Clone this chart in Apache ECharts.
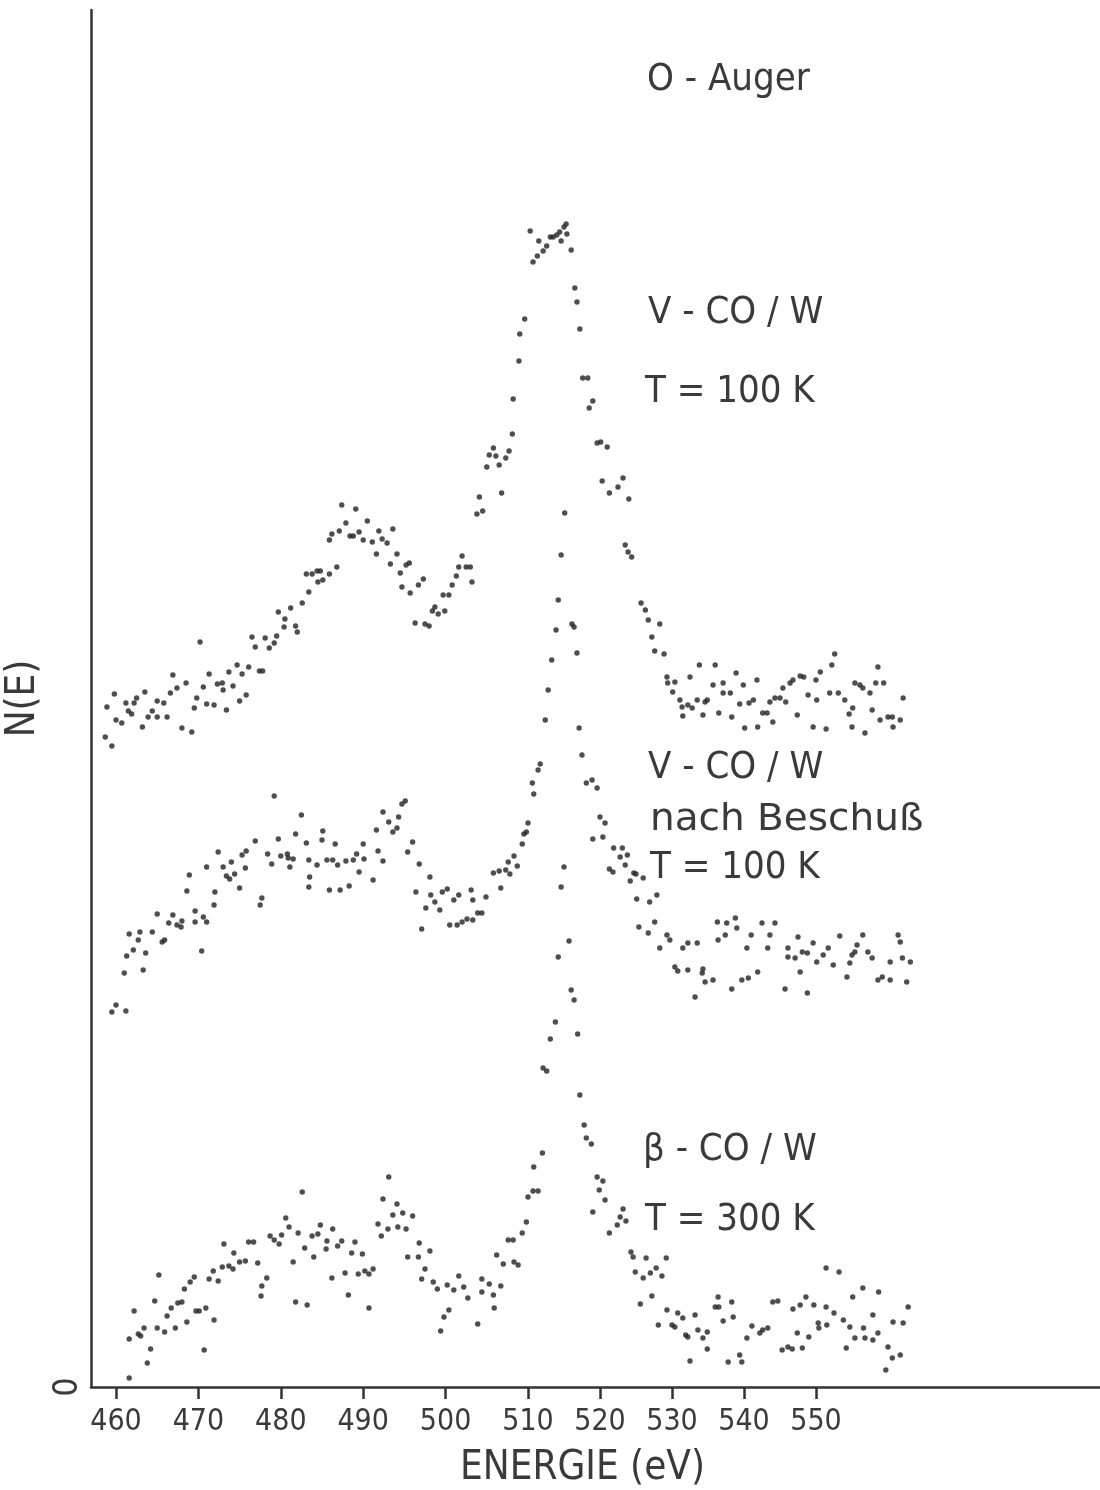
<!DOCTYPE html>
<html>
<head>
<meta charset="utf-8">
<title>O-Auger N(E)</title>
<script src="https://cdn.jsdelivr.net/npm/echarts@6/dist/echarts.min.js"></script>
<style>
  html, body { margin: 0; padding: 0; background: #ffffff; }
  #chart { width: 1100px; height: 1490px; }
</style>
</head>
<body>
<div id="chart"></div>
<script>
// Energy tick labels (eV)
const tickEnergies = [460, 470, 480, 490, 500, 510, 520, 530, 540, 550];

// O-Auger spectra, [energy eV, N(E) arb. units]
// V-CO/W, T = 100 K
const vcoW100K = [
  [458.7,65.0],[458.9,68.0],[459.5,64.1],[459.8,69.3],[460.0,66.7],[460.7,66.4],[461.2,68.4],[461.5,67.6],
  [461.9,67.3],[462.2,68.4],[462.5,68.9],[463.2,66.0],[463.5,69.5],[463.9,67.0],[464.4,67.6],[465.0,68.6],
  [465.0,67.0],[465.8,68.4],[466.2,67.0],[466.6,69.4],[466.9,71.2],[467.4,69.9],[468.0,65.9],[468.5,70.4],
  [469.2,65.5],[469.5,67.9],[469.8,68.9],[470.2,74.5],[470.6,70.0],[471.0,68.3],[471.3,71.3],[471.9,68.2],
  [472.3,70.3],[472.9,70.4],[473.0,69.7],[473.4,67.7],[473.7,71.5],[474.2,70.1],[474.7,72.2],[475.0,68.6],
  [475.3,71.3],[475.8,69.2],[476.1,72.0],[476.5,75.0],[476.9,74.0],[477.4,71.6],[477.8,71.6],[478.1,74.9],
  [478.6,73.9],[479.2,74.4],[479.5,75.1],[479.7,77.5],[480.4,76.0],[480.5,76.8],[481.2,77.9],[481.8,76.1],
  [482.0,75.5],[482.6,78.4],[483.1,81.3],[483.4,79.5],[483.8,81.3],[484.4,81.6],[484.5,80.5],[484.8,81.6],
  [485.1,80.7],[485.9,81.3],[485.9,84.7],[486.2,85.3],[486.8,82.0],[487.1,85.6],[487.4,88.2],[487.9,86.4],
  [488.4,85.1],[488.8,85.1],[489.1,87.8],[489.5,85.5],[490.0,84.7],[490.5,86.6],[491.1,84.5],[491.6,83.3],
  [491.9,85.6],[492.3,84.8],[492.9,84.4],[493.3,82.3],[493.6,85.8],[494.1,83.3],[494.5,81.4],[494.7,80.0],
  [495.2,82.2],[495.6,82.4],[495.7,79.4],[496.3,76.4],[496.7,80.2],[497.3,80.8],[497.5,76.3],[498.0,76.1],
  [498.4,77.6],[498.7,78.0],[499.1,77.3],[499.7,79.2],[499.9,77.6],[500.4,79.2],[500.8,80.2],[501.3,81.1],
  [501.6,82.0],[502.0,83.1],[502.5,82.0],[503.0,82.0],[503.2,80.5],[503.8,87.3],[504.1,89.0],[504.5,87.6],
  [505.0,92.0],[505.3,93.2],[505.8,93.9],[506.1,93.1],[506.5,92.2],[506.8,89.4],[507.3,92.9],[507.7,93.6],
  [508.1,95.3],[508.2,98.8],[508.9,102.6],[509.0,105.3],[509.6,106.8],[510.3,115.6],[510.7,112.5],[511.3,113.1],
  [511.5,114.6],[512.1,113.6],[512.6,114.1],[513.1,115.0],[513.5,115.0],[514.0,115.2],[514.4,115.5],[514.6,114.6],
  [515.0,116.0],[515.3,116.3],[515.4,115.3],[516.0,113.7],[516.5,109.9],[516.8,108.5],[517.2,105.8],[517.6,100.9],
  [518.3,100.9],[518.5,97.9],[519.0,98.6],[519.6,94.4],[520.1,94.5],[520.3,90.6],[521.0,94.0],[521.3,89.4],
  [522.5,90.0],[523.2,90.9],[524.0,88.8],[523.5,84.2],[523.9,83.5],[524.4,83.0],[525.7,78.4],[526.3,77.7],
  [526.7,76.7],[527.2,75.0],[527.6,73.6],[528.3,76.3],[528.9,73.3],[529.3,71.0],[529.4,70.4],[530.1,69.5],
  [530.4,70.5],[531.1,68.7],[531.4,68.0],[531.5,67.1],[532.2,68.2],[532.5,71.0],[532.8,67.9],[533.5,68.7],
  [533.8,72.2],[534.3,67.2],[534.6,68.5],[534.9,68.7],[535.7,70.2],[536.0,72.2],[536.5,67.4],[537.1,70.4],
  [537.1,69.4],[538.1,69.4],[538.3,67.0],[538.9,71.4],[539.4,68.3],[539.9,70.2],[540.1,65.9],[540.7,68.4],
  [541.3,68.7],[541.8,70.7],[541.9,66.0],[542.6,67.4],[543.2,67.4],[543.6,68.5],[544.0,66.5],[544.3,68.9],
  [545.0,68.9],[545.4,69.9],[545.8,68.5],[546.4,70.4],[546.8,70.7],[547.4,67.2],[547.8,71.1],[548.3,71.0],
  [548.9,69.2],[549.6,66.0],[550.0,70.7],[550.1,68.7],[550.6,71.5],[551.4,65.8],[551.9,69.4],[552.2,72.2],
  [552.6,73.3],[553.1,69.4],[554.0,68.7],[554.6,67.3],[555.0,66.0],[555.1,67.9],[555.4,70.4],[556.1,70.2],
  [556.5,69.9],[556.8,65.4],[557.5,69.4],[557.8,67.7],[558.3,70.4],[558.6,72.0],[558.9,66.7],[559.4,70.4],
  [560.0,67.0],[560.6,67.0],[560.7,66.0],[561.7,66.7],[562.1,68.9]
];

// V-CO/W nach Beschuss, T = 100 K
const vcoWBombarded = [
  [459.5,37.5],[460.0,38.2],[461.0,41.4],[461.2,37.6],[461.3,43.1],[461.6,45.3],[462.1,43.7],[462.7,44.7],
  [462.9,45.5],[463.3,41.7],[463.6,43.4],[464.4,45.5],[465.0,47.3],[465.6,44.5],[465.9,44.7],[466.4,46.4],
  [466.9,47.2],[467.4,46.2],[467.9,46.0],[468.0,46.6],[468.6,49.6],[468.9,51.2],[469.6,47.6],[469.6,46.5],
  [470.4,43.6],[470.6,47.0],[471.0,46.5],[471.0,52.0],[471.9,48.2],[472.0,49.5],[472.4,53.5],[473.0,52.0],
  [473.4,51.1],[473.8,50.8],[474.0,52.5],[474.4,51.3],[475.0,49.9],[475.3,53.2],[475.7,51.9],[475.8,53.6],
  [476.9,54.6],[477.5,48.2],[477.7,48.9],[478.4,53.3],[478.9,52.3],[479.2,59.1],[479.7,54.8],[480.0,53.1],
  [480.8,53.3],[480.9,52.9],[481.1,52.0],[481.5,52.8],[481.8,55.3],[482.5,57.2],[483.1,54.4],[483.4,52.7],
  [483.5,51.0],[483.4,50.0],[484.4,52.2],[485.0,54.7],[485.1,55.6],[485.6,52.7],[485.9,49.7],[486.3,52.7],
  [486.6,54.3],[486.9,52.2],[487.2,49.7],[487.9,52.6],[488.3,50.1],[488.8,52.7],[489.2,53.3],[489.5,51.5],
  [490.0,54.3],[490.1,52.8],[491.2,50.7],[491.6,55.7],[491.8,53.6],[492.4,52.6],[492.4,57.5],[493.1,56.5],
  [493.6,55.5],[494.1,55.9],[494.3,57.0],[494.7,58.3],[495.1,58.6],[495.4,53.5],[496.0,54.5],[496.4,49.5],
  [496.8,52.3],[497.1,45.8],[497.6,47.9],[498.1,51.0],[498.2,49.2],[498.7,48.5],[499.3,47.7],[499.6,49.5],
  [500.2,49.8],[500.5,46.2],[501.0,48.7],[501.4,46.2],[501.6,49.2],[502.0,46.5],[502.6,46.8],[503.1,49.7],
  [503.3,46.7],[503.3,48.7],[503.9,47.4],[504.4,47.4],[504.9,49.0],[505.8,51.4],[506.5,51.6],[506.7,49.9],
  [507.3,51.7],[507.6,52.5],[507.8,51.3],[508.3,53.1],[508.7,52.1],[509.3,54.3],[509.5,55.3],[509.8,55.5],
  [510.0,56.4],[510.6,60.4],[510.8,59.3],[511.4,61.7],[511.7,62.3],[512.4,66.7],[512.8,69.7],[513.3,72.7],
  [513.9,75.7],[514.2,78.7],[514.6,83.2],[515.1,87.4],[516.1,76.3],[516.4,76.0],[516.8,73.4],[517.1,65.9],
  [517.5,63.2],[518.1,60.4],[518.9,60.7],[519.6,59.9],[520.0,57.0],[520.7,56.4],[519.0,54.8],[520.4,55.0],
  [521.9,53.9],[523.1,53.9],[521.3,51.8],[521.8,51.5],[522.8,53.0],[523.8,53.2],[523.5,52.2],[524.2,50.6],
  [524.7,51.4],[525.0,51.3],[526.0,50.9],[525.1,48.8],[526.9,48.5],[527.9,49.2],[525.4,46.0],[526.7,45.4],
  [527.6,46.5],[529.3,45.2],[529.7,44.7],[528.3,43.9],[530.4,42.0],[530.8,41.6],[531.5,43.9],[532.2,44.4],
  [533.5,44.4],[532.2,41.7],[534.3,41.8],[534.2,41.4],[534.6,40.5],[535.7,40.7],[533.2,39.0],[536.3,46.5],
  [536.4,44.7],[537.4,45.2],[538.8,46.9],[539.0,45.9],[537.6,46.4],[538.3,39.8],[539.7,40.7],[540.4,43.9],
  [540.6,40.9],[541.0,45.2],[541.9,41.5],[542.5,46.4],[543.3,43.9],[543.6,45.2],[544.3,46.4],[545.7,39.8],
  [546.1,43.9],[546.1,43.0],[547.1,42.9],[547.5,45.0],[548.1,43.5],[547.8,41.5],[548.8,39.4],[548.8,43.4],
  [549.6,44.4],[550.1,42.5],[551.0,43.2],[551.7,43.9],[552.4,42.2],[553.3,45.1],[554.3,41.0],[554.7,42.4],
  [555.0,43.2],[555.4,43.5],[555.7,44.2],[556.5,45.2],[557.2,43.5],[557.8,42.9],[558.6,40.7],[559.2,41.0],
  [560.3,40.7],[560.3,42.5],[561.4,45.2],[561.7,44.5],[562.0,42.9],[562.6,40.5],[563.1,42.5]
];

// beta-CO/W, T = 300 K
const betaCoW300K = [
  [461.6,0.9],[461.6,4.8],[462.2,7.6],[462.7,5.3],[463.0,5.1],[463.4,5.9],[463.8,2.4],[464.2,3.8],
  [464.7,8.6],[465.0,5.9],[465.2,11.2],[465.9,5.5],[466.2,7.1],[466.7,7.9],[467.2,5.9],[467.5,8.4],
  [468.0,8.5],[468.3,9.8],[468.6,6.5],[469.0,10.5],[469.5,11.0],[469.7,7.6],[470.1,7.6],[470.7,3.7],
  [470.9,7.9],[471.3,10.8],[471.8,11.6],[471.9,6.7],[472.4,10.6],[472.9,12.0],[473.1,14.3],[473.7,12.1],
  [474.2,11.8],[474.3,13.4],[475.0,12.5],[475.7,12.6],[476.1,14.5],[476.7,14.5],[477.2,12.4],[477.6,9.1],
  [477.7,10.1],[478.3,10.9],[478.7,15.1],[479.2,14.7],[479.8,14.3],[480.1,15.2],[480.6,16.9],[481.0,16.0],
  [481.5,12.5],[481.8,8.5],[482.1,15.4],[482.6,19.5],[482.9,13.9],[483.2,8.2],[483.8,15.1],[484.0,13.0],
  [484.5,15.3],[484.8,16.2],[485.5,13.8],[485.6,14.6],[486.2,10.9],[486.3,15.8],[486.9,14.1],[487.4,14.6],
  [487.8,11.4],[488.2,9.2],[488.6,13.4],[489.0,14.5],[489.4,11.3],[489.9,13.3],[490.2,11.6],[490.7,7.9],
  [490.7,11.3],[491.2,11.8],[491.8,16.3],[492.2,15.1],[492.4,18.8],[493.0,15.8],[493.1,21.0],[493.6,17.2],
  [494.1,18.3],[494.2,16.0],[494.8,17.4],[495.2,15.8],[495.4,13.0],[496.0,17.1],[496.7,13.0],[496.8,14.4],
  [497.1,10.8],[497.5,11.8],[498.1,13.6],[498.5,10.5],[499.0,9.8],[499.4,5.6],[499.8,7.0],[500.2,10.2],
  [500.4,7.7],[501.0,9.7],[501.6,11.1],[502.2,10.0],[502.7,8.9],[503.9,6.3],[504.4,10.8],[504.4,9.5],
  [505.3,10.3],[505.8,9.2],[505.9,7.9],[506.2,13.2],[506.7,10.1],[507.0,12.3],[507.6,14.7],[508.2,14.7],
  [508.3,12.5],[508.8,12.2],[509.3,15.4],[509.8,16.5],[510.0,19.0],[510.7,19.6],[510.8,22.0],[511.4,19.6],
  [512.0,23.4],[512.1,31.9],[512.6,31.6],[513.1,34.8],[513.8,36.5],[514.2,43.0],[514.6,50.0],[515.0,52.0],
  [515.7,44.6],[516.0,39.7],[516.4,38.7],[516.9,35.3],[517.2,29.2],[517.8,26.2],[518.1,24.9],[518.8,24.3],
  [519.0,17.5],[519.6,21.0],[519.9,19.7],[520.4,20.6],[520.7,18.7],[521.3,15.4],[522.4,16.2],[522.8,17.0],
  [523.2,17.8],[523.6,16.6],[524.3,13.5],[524.6,13.0],[524.9,11.5],[525.6,8.3],[526.0,10.9],[526.4,12.9],
  [527.0,11.4],[527.2,9.1],[527.8,11.9],[528.1,6.2],[528.6,11.1],[529.2,12.9],[529.3,7.7],[530.0,6.2],
  [530.4,6.0],[530.8,7.4],[531.5,6.9],[531.9,5.2],[532.2,5.0],[532.5,2.6],[533.2,7.2],[533.6,5.7],
  [534.3,4.9],[534.9,5.5],[534.9,3.8],[536.0,8.0],[536.4,9.0],[536.5,8.0],[537.1,6.6],[537.8,2.5],
  [538.3,8.5],[538.5,7.0],[539.4,3.2],[539.7,2.5],[540.4,4.9],[541.1,6.1],[542.2,5.4],[542.6,5.7],
  [543.3,5.9],[544.0,8.5],[544.7,8.6],[545.3,3.7],[546.1,4.0],[546.7,3.8],[546.8,7.8],[547.4,5.4],
  [547.8,8.2],[548.1,3.9],[548.6,9.0],[549.0,5.0],[549.7,8.2],[550.3,6.4],[550.4,5.9],[551.4,11.9],
  [551.4,8.0],[551.5,6.2],[552.5,7.4],[553.2,11.5],[553.8,6.7],[554.2,3.9],[554.7,6.0],[555.1,9.0],
  [555.4,4.9],[556.5,9.9],[556.6,5.9],[556.8,4.9],[557.9,7.2],[557.9,4.7],[558.6,5.4],[558.7,9.5],
  [559.7,1.7],[560.0,4.0],[560.6,2.9],[560.7,6.5],[561.7,3.2],[562.1,6.4],[562.8,8.0]
];

// The energy scale is drawn compressed above 510 eV (tick spacing 7.2 px/eV vs 8.24 px/eV below).
const SPLIT_EV = 510;
const HIGH_E_SCALE = 7.2 / 8.24;
const toAxis = e => (e <= SPLIT_EV ? e : SPLIT_EV + (e - SPLIT_EV) * HIGH_E_SCALE);
const fromAxis = u => (u <= SPLIT_EV ? u : SPLIT_EV + (u - SPLIT_EV) / HIGH_E_SCALE);

const FONT = "'DejaVu Sans Condensed', 'DejaVu Sans', sans-serif";
const INK = '#333333';
const TEXT_INK = '#3a3a3a';

const chart = echarts.init(document.getElementById('chart'), null, { renderer: 'canvas' });

const dotSeries = (name, pts) => ({
  name,
  type: 'scatter',
  symbol: 'circle',
  symbolSize: 5.4,
  itemStyle: { color: '#222222' },
  silent: true,
  data: pts.map(([e, n]) => [toAxis(e), n])
});

// Annotation text anchored at its left edge and vertical middle
const textEl = (text, x, y, sx) => ({
  type: 'text',
  x,
  y,
  scaleX: sx || 1,
  style: {
    text,
    x: 0,
    y: 0,
    font: `38px ${FONT}`,
    fill: TEXT_INK,
    verticalAlign: 'middle',
    align: 'left'
  }
});

const tickAxisValues = tickEnergies.map(toAxis);

chart.setOption({
  animation: false,
  backgroundColor: '#ffffff',
  grid: { left: 91, right: 0, top: 10, bottom: 103, containLabel: false, outerBoundsMode: 'none' },
  xAxis: {
    type: 'value',
    min: 460 - 25 / 8.24,
    max: 460 + 984 / 8.24,
    splitLine: { show: false },
    axisLine: { show: true, onZero: false, lineStyle: { color: INK, width: 2.5 } },
    axisTick: {
      show: true,
      inside: false,
      customValues: tickAxisValues,
      length: 12,
      lineStyle: { color: INK, width: 2.5 }
    },
    axisLabel: {
      show: true,
      customValues: tickAxisValues,
      margin: 20,
      fontFamily: FONT,
      fontSize: 30,
      color: TEXT_INK,
      formatter: v => String(Math.round(fromAxis(v)))
    },
    name: 'ENERGIE (eV)',
    nameLocation: 'middle',
    nameGap: 62,
    nameTextStyle: { fontFamily: FONT, fontSize: 40, color: TEXT_INK, padding: [0, 26, 0, 0] }
  },
  yAxis: {
    type: 'value',
    min: 0,
    max: 137.7,
    interval: 1000,
    splitLine: { show: false },
    axisLine: { show: true, onZero: false, lineStyle: { color: INK, width: 2.5 } },
    axisTick: { show: false },
    axisLabel: {
      show: true,
      showMaxLabel: false,
      rotate: 90,
      margin: 6,
      fontFamily: FONT,
      fontSize: 33,
      color: TEXT_INK,
      formatter: v => (v === 0 ? '0' : '')
    },
    name: 'N(E)',
    nameLocation: 'middle',
    nameGap: 33,
    nameRotate: 90,
    nameTextStyle: { fontFamily: FONT, fontSize: 40, color: TEXT_INK }
  },
  series: [
    dotSeries('V-CO/W 100 K', vcoW100K),
    dotSeries('V-CO/W nach Beschuß 100 K', vcoWBombarded),
    dotSeries('β-CO/W 300 K', betaCoW300K)
  ],
  graphic: [
    textEl('O - Auger', 647, 80),
    textEl('V - CO / W', 648, 313),
    textEl('T = 100 K', 645, 392),
    textEl('V - CO / W', 648, 768),
    textEl('nach Beschuß', 650, 820, 1.14),
    textEl('T = 100 K', 650, 868),
    textEl('β - CO / W', 643, 1150),
    textEl('T = 300 K', 645, 1220)
  ]
});
</script>
</body>
</html>
